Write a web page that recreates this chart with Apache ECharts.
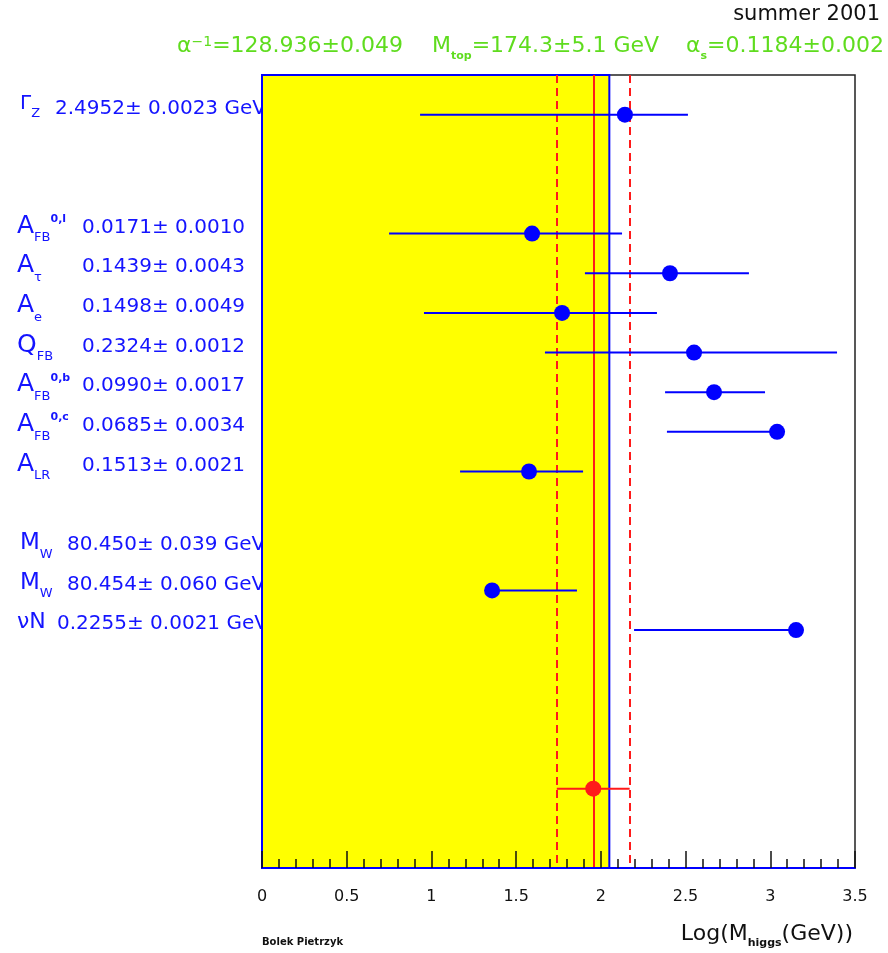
<!DOCTYPE html>
<html>
<head>
<meta charset="utf-8">
<script src="https://cdn.jsdelivr.net/npm/echarts@6/dist/echarts.min.js"></script>
<style>
html, body { margin: 0; padding: 0; background: #ffffff; }
#chart { width: 888px; height: 953px; }
</style>
</head>
<body>
<div id="chart"></div>
<script>
// ---- measurements (one row per observable, row index counts down the plot) ----
const rowPos   = [0, 3, 4, 5, 6, 7, 8, 9, 11, 12, 13];
const labelSym = ['Γ', 'A', 'A', 'A', 'Q', 'A', 'A', 'A', 'M', 'M', 'νN'];
const labelSub = ['Z', 'FB', 'τ', 'e', 'FB', 'FB', 'FB', 'LR', 'W', 'W', ''];
const labelSup = ['', '0,l', '', '', '', '0,b', '0,c', '', '', '', ''];
const labelVal = [
  '2.4952± 0.0023 GeV',
  '0.0171± 0.0010',
  '0.1439± 0.0043',
  '0.1498± 0.0049',
  '0.2324± 0.0012',
  '0.0990± 0.0017',
  '0.0685± 0.0034',
  '0.1513± 0.0021',
  '80.450± 0.039 GeV',
  '80.454± 0.060 GeV',
  '0.2255± 0.0021 GeV'
];
// log10(M_higgs / GeV) preferred by each measurement, with its range
const fitValue = [2.142, 1.594, 2.408, 1.771, 2.550, 2.668, 3.040, 1.576, null, 1.358, 3.152];
const fitLow   = [0.933, 0.750, 1.906, 0.956, 1.670, 2.379, 2.390, 1.169, null, 1.358, 2.196];
const fitHigh  = [2.514, 2.125, 2.874, 2.331, 3.394, 2.969, 3.040, 1.895, null, 1.859, 3.152];

// combined result
const globalRow   = 17;
const globalValue = 1.955;
const globalLow   = 1.74;
const globalHigh  = 2.17;

// excluded region edge (log10 M_higgs)
const excludedEdge = 2.05;

// x axis range and tick step
const xMin = 0, xMax = 3.5, xStep = 0.5;
const rowMin = -1, rowMax = 19;

// input parameters shown on top
const headerParts = [
  { sym: 'α', sub: '', sup: '−1', rest: '=128.936±0.049' },
  { sym: 'M', sub: 'top', sup: '', rest: '=174.3±5.1 GeV' },
  { sym: 'α', sub: 's', sup: '', rest: '=0.1184±0.002' }
];

// ---- layout / style ----
const FONT = 'DejaVu Sans';
const BLUE = '#0000ff';
const TXT_BLUE = '#1414ff';
const GREEN = '#5fdc1e';
const RED = '#ff1a1a';
const symX  = [20, 17, 17, 17, 17, 17, 17, 17, 20, 20, 17];
const symSize = [20, 25, 25, 25, 25, 25, 25, 25, 23, 23, 22];
const symDy = [5, 11, 11, 11, 11, 11, 11, 11, 10, 10, 9];
const valX  = [55, 82, 82, 82, 82, 82, 82, 82, 67, 67, 57];
const headerX = [177, 432, 686];

const chart = echarts.init(document.getElementById('chart'), null, { renderer: 'canvas' });

const barData = [];
const pointData = [];
for (let i = 0; i < rowPos.length; i++) {
  if (fitValue[i] === null) continue;
  barData.push([fitLow[i], fitHigh[i], rowPos[i]]);
  pointData.push([fitValue[i], rowPos[i]]);
}

function renderBar(color) {
  return function (params, api) {
    const a = api.coord([api.value(0), api.value(2)]);
    const b = api.coord([api.value(1), api.value(2)]);
    return {
      type: 'line',
      shape: { x1: a[0], y1: a[1], x2: b[0], y2: b[1] },
      style: { stroke: color, lineWidth: 2 }
    };
  };
}

chart.setOption({
  animation: false,
  backgroundColor: '#ffffff',
  grid: {
    left: 262, top: 75, right: 33, bottom: 85,
    show: true, borderColor: '#222222', borderWidth: 1.5,
    backgroundColor: 'transparent',
    containLabel: false, outerBoundsMode: 'none'
  },
  xAxis: {
    type: 'value', min: xMin, max: xMax, interval: xStep, z: 4,
    axisLine: { show: true, onZero: false, lineStyle: { color: BLUE, width: 2 } },
    axisTick: { show: true, inside: true, length: 17, lineStyle: { color: '#111111', width: 1.5 } },
    minorTick: { show: true, splitNumber: 5, length: 9, lineStyle: { color: '#111111', width: 1.5 } },
    splitLine: { show: false },
    axisLabel: { color: '#111111', fontFamily: FONT, fontSize: 16, margin: 21 }
  },
  yAxis: {
    type: 'value', min: rowMin, max: rowMax, inverse: true, show: false,
    splitLine: { show: false }
  },
  series: [
    {
      name: 'range', type: 'custom', renderItem: renderBar(BLUE), data: barData,
      encode: { x: [0, 1], y: 2 }, z: 3,
      markArea: {
        silent: true, z: 1,
        itemStyle: { color: '#ffff00', borderColor: BLUE, borderWidth: 2 },
        data: [[{ xAxis: xMin }, { xAxis: excludedEdge }]]
      },
      markLine: {
        silent: true, symbol: ['none', 'none'], z: 2,
        label: { show: false },
        lineStyle: { color: RED, width: 2, type: [8, 5] },
        data: [
          { xAxis: globalValue, lineStyle: { type: 'solid', color: RED, width: 2 } },
          { xAxis: globalLow },
          { xAxis: globalHigh }
        ]
      }
    },
    {
      name: 'value', type: 'scatter', data: pointData, symbolSize: 16, z: 4,
      itemStyle: { color: BLUE, opacity: 1 }
    },
    {
      name: 'global range', type: 'custom', renderItem: renderBar(RED),
      data: [[globalLow, globalHigh, globalRow]], encode: { x: [0, 1], y: 2 }, z: 3
    },
    {
      name: 'global', type: 'scatter', data: [[globalValue, globalRow]], symbolSize: 16, z: 4,
      itemStyle: { color: RED, opacity: 1 }
    }
  ]
});

// ---- text annotations ----
const graphics = [];
for (let i = 0; i < rowPos.length; i++) {
  const y = chart.convertToPixel({ gridIndex: 0 }, [0, rowPos[i]])[1];
  let txt = '{s|' + labelSym[i] + '}';
  if (labelSub[i]) txt += '{b|' + labelSub[i] + '}';
  if (labelSup[i]) txt += '{p|' + labelSup[i] + '}';
  graphics.push({
    type: 'text', x: symX[i], y: y + symDy[i], z: -1,
    style: {
      text: txt, align: 'left', verticalAlign: 'bottom',
      rich: {
        s: { fontSize: symSize[i], fontFamily: FONT, fill: TXT_BLUE, verticalAlign: 'bottom', padding: [0, 0, 6, 0] },
        b: { fontSize: 13, fontFamily: FONT, fill: TXT_BLUE, verticalAlign: 'bottom' },
        p: { fontSize: 11, fontFamily: FONT, fontWeight: 'bold', fill: TXT_BLUE, verticalAlign: 'top' }
      }
    }
  });
  graphics.push({
    type: 'text', x: valX[i], y: y - 6, z: -1,
    style: { text: labelVal[i], fill: TXT_BLUE, fontSize: 20, fontFamily: FONT, align: 'left', verticalAlign: 'middle' }
  });
}

headerParts.forEach((h, k) => {
  let txt = '{s|' + h.sym + '}';
  if (h.sub) txt += '{b|' + h.sub + '}';
  if (h.sup) txt += '{p|' + h.sup + '}';
  txt += '{s|' + h.rest + '}';
  graphics.push({
    type: 'text', x: headerX[k], y: 62,
    style: {
      text: txt, align: 'left', verticalAlign: 'bottom',
      rich: {
        s: { fontSize: 22, fontFamily: FONT, fill: GREEN, verticalAlign: 'bottom', padding: [0, 0, 5, 0] },
        b: { fontSize: 11, fontFamily: FONT, fontWeight: 'bold', fill: GREEN, verticalAlign: 'bottom' },
        p: { fontSize: 14, fontFamily: FONT, fill: GREEN, verticalAlign: 'top' }
      }
    }
  });
});

graphics.push({
  type: 'text', x: 880, y: 25,
  style: { text: 'summer 2001', fill: '#111111', fontSize: 21, fontFamily: FONT, align: 'right', verticalAlign: 'bottom' }
});

graphics.push({
  type: 'text', x: 853, y: 949,
  style: {
    text: '{s|Log(M}{b|higgs}{s|(GeV))}', align: 'right', verticalAlign: 'bottom',
    rich: {
      s: { fontSize: 22, fontFamily: FONT, fill: '#111111', verticalAlign: 'bottom', padding: [0, 0, 4, 0] },
      b: { fontSize: 11, fontFamily: FONT, fontWeight: 'bold', fill: '#111111', verticalAlign: 'bottom' }
    }
  }
});

graphics.push({
  type: 'text', x: 262, y: 942,
  style: { text: 'Bolek Pietrzyk', fill: '#111111', fontSize: 10, fontWeight: 'bold', fontFamily: FONT, align: 'left', verticalAlign: 'middle' }
});

chart.setOption({ graphic: graphics });
</script>
</body>
</html>
